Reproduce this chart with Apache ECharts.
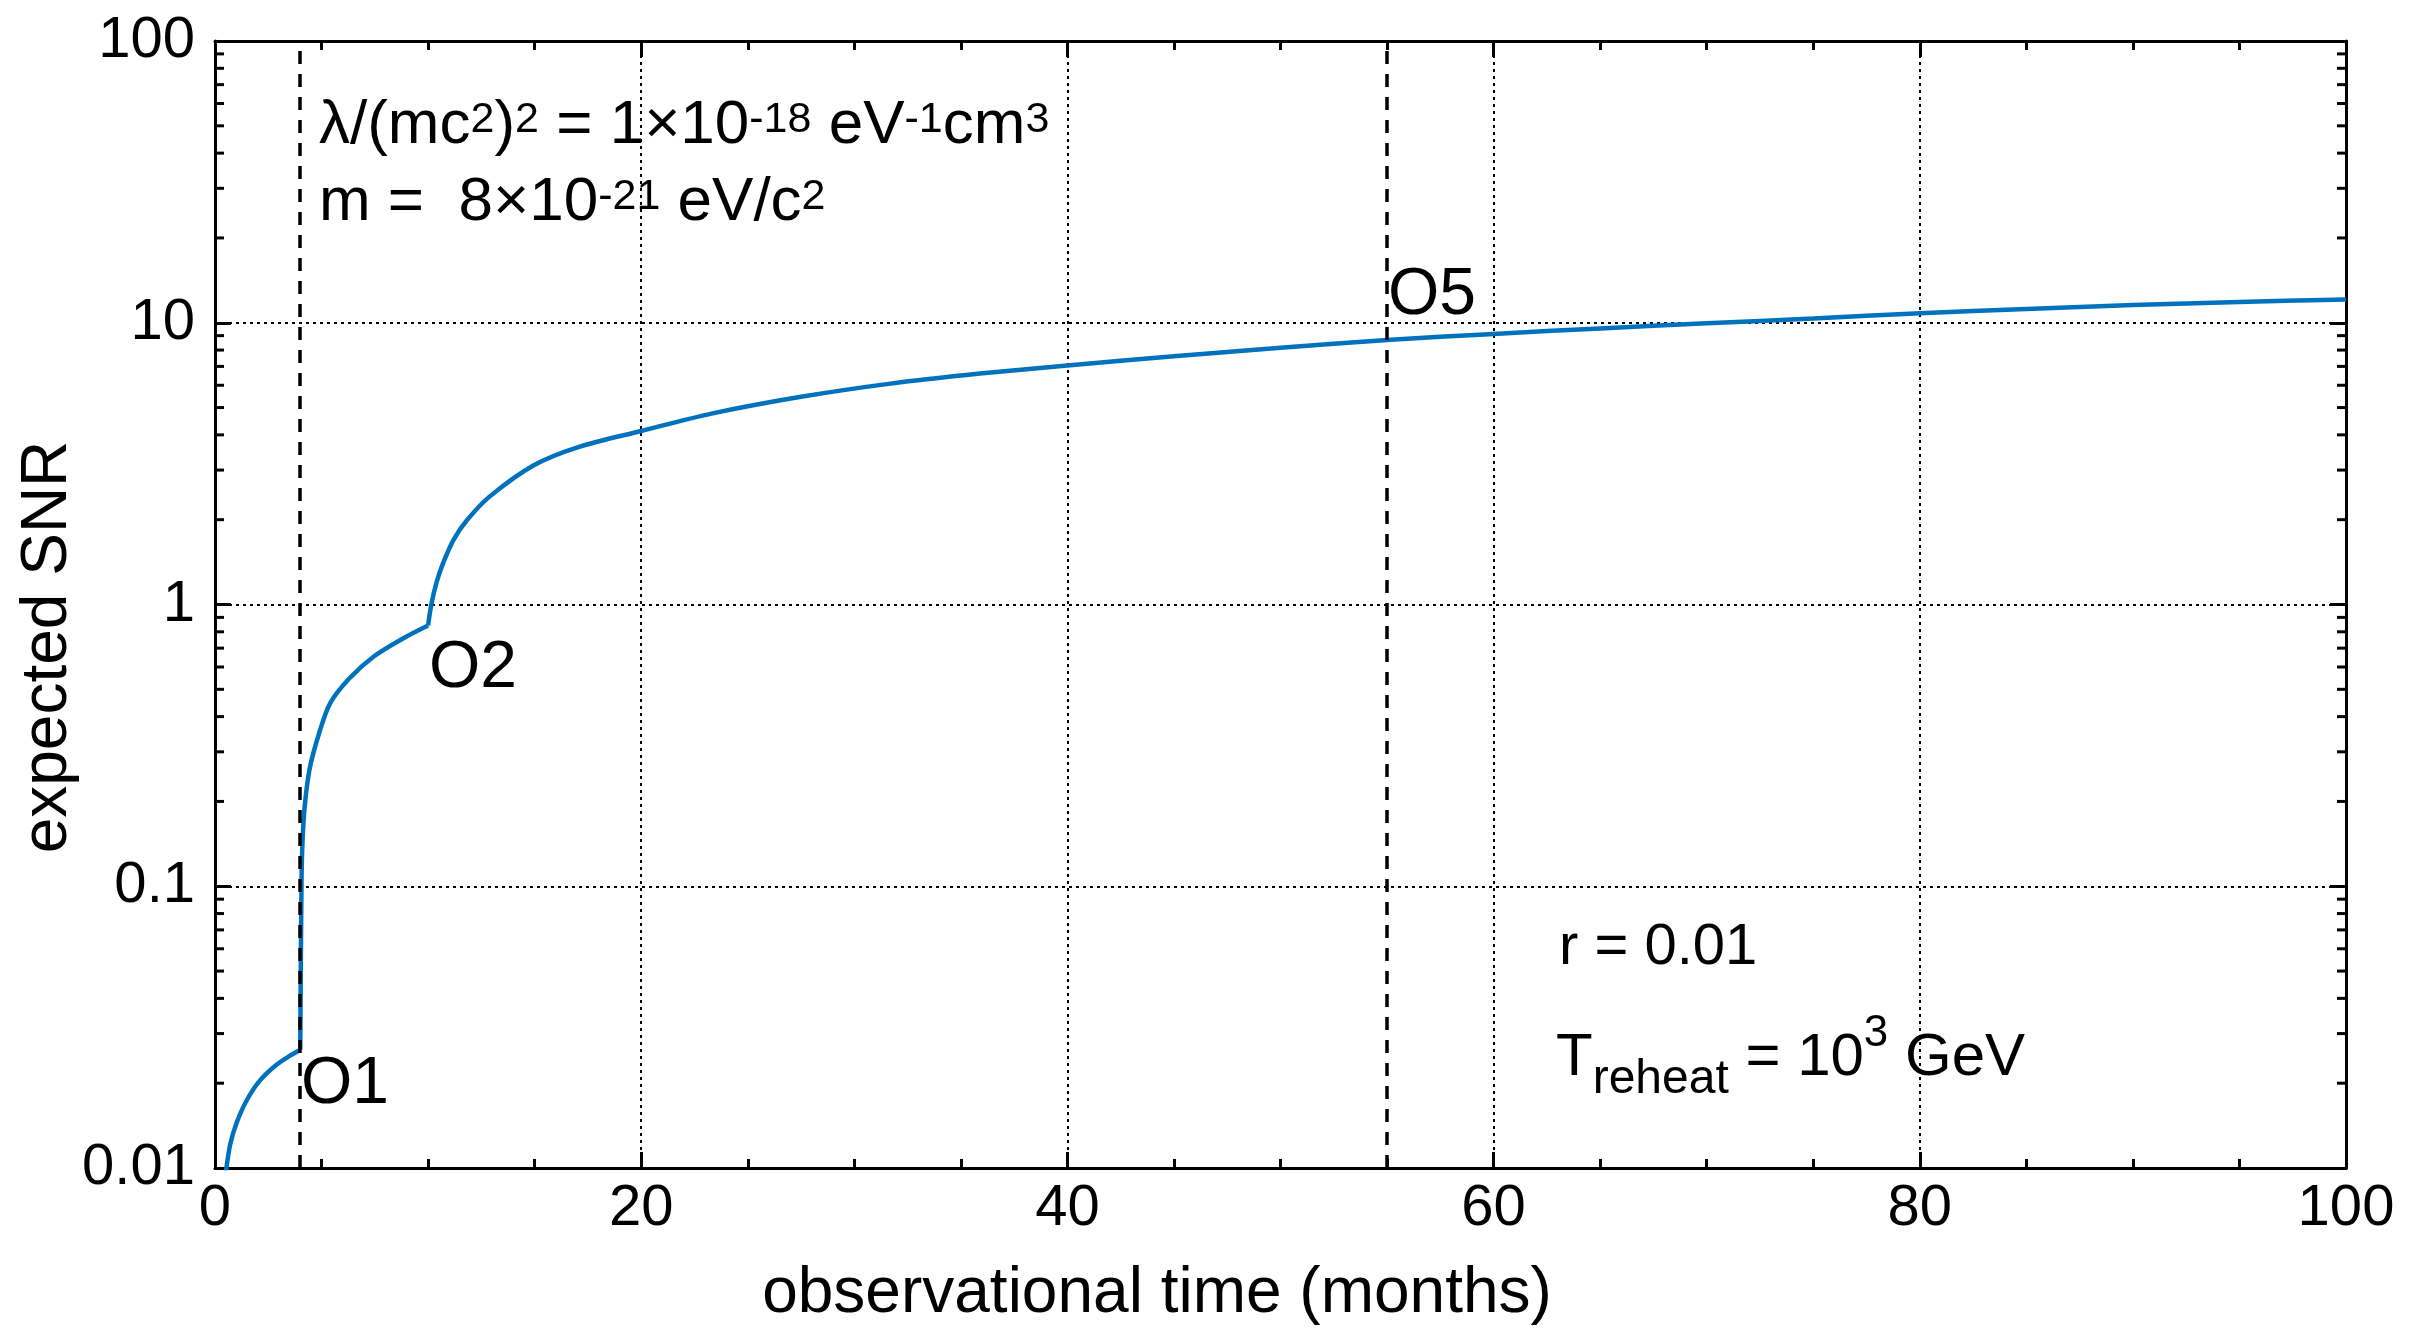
<!DOCTYPE html>
<html>
<head>
<meta charset="utf-8">
<script src="https://cdn.jsdelivr.net/npm/echarts@6/dist/echarts.min.js"></script>
<style>
html,body{margin:0;padding:0;background:#fff;}
#chart{width:2433px;height:1329px;}
</style>
</head>
<body>
<div id="chart"></div>
<script>
// ---- data (one array pair per observing-run stretch) ----
const monthsO1 = [0.45, 0.52, 0.71, 1.02, 1.49, 2.12, 2.9, 3.5, 4.0];
const snrO1 = [0.0088, 0.0098, 0.0121, 0.0145, 0.0174, 0.0205, 0.0233, 0.025, 0.0263];
const monthsO2 = [4.0, 4.06, 4.11, 4.22, 4.45, 4.9, 5.4, 6.3, 7.45, 8.8, 10.0];
const snrO2 = [0.0263, 0.103, 0.146, 0.196, 0.263, 0.352, 0.446, 0.546, 0.654, 0.756, 0.842];
const monthsO5 = [10.0, 10.15, 10.4, 10.7, 11.2, 11.82, 12.87, 14.96, 17.05, 20, 23.3, 27.5, 31.7, 35.9, 40, 45, 50, 55, 60, 65, 70, 75, 80, 85, 90, 95, 100];
const snrO5 = [0.842, 1.0, 1.2, 1.4, 1.7, 1.99, 2.41, 3.12, 3.62, 4.13, 4.76, 5.46, 6.08, 6.6, 7.05, 7.6, 8.15, 8.68, 9.13, 9.55, 9.95, 10.36, 10.8, 11.2, 11.55, 11.85, 12.1];
const runStartMonths = [4, 55];
const xTickValues = [0, 20, 40, 60, 80, 100];
const xTickLabels = ['0', '20', '40', '60', '80', '100'];
const yTickValues = [0.01, 0.1, 1, 10, 100];
const yTickLabels = ['0.01', '0.1', '1', '10', '100'];
const yDecades = [0.01, 0.1, 1, 10];
const yMinorMultipliers = [2, 3, 4, 5, 6, 7, 8, 9];
const xAxisTitle = 'observational time (months)';
const yAxisTitle = 'expected SNR';

// ---- chart ----
const F = "'Liberation Sans', Arial, Helvetica, sans-serif";
const CURVE = '#0072BD';
const yMinorTicks = [];
yDecades.forEach(d => yMinorMultipliers.forEach(k => yMinorTicks.push(d * k)));

const chart = echarts.init(document.getElementById('chart'), null, {renderer: 'canvas'});

const axisLineStyle = {color: '#000', width: 3};
const gridLineStyle = {color: '#000', width: 2, type: [3, 4]};

function xAxisBase(pos, withLabels) {
  return {
    type: 'value', min: 0, max: 100, interval: 20, position: pos,
    axisLine: {show: true, onZero: false, lineStyle: axisLineStyle},
    axisTick: {show: true, inside: true, length: 16, lineStyle: {color: '#000', width: 3}},
    minorTick: {show: true, splitNumber: 4, length: 9, lineStyle: {color: '#000', width: 3}},
    axisLabel: withLabels ? {
      show: true, margin: 12, fontSize: 58, color: '#000', fontFamily: F,
      showMinLabel: true, showMaxLabel: true,
      formatter: v => { const i = xTickValues.indexOf(Math.round(v)); return i >= 0 ? xTickLabels[i] : ''; }
    } : {show: false},
    splitLine: {show: withLabels, lineStyle: gridLineStyle},
    minorSplitLine: {show: false}
  };
}
function yAxisBase(pos, withLabels) {
  return {
    type: 'log', logBase: 10, min: 0.01, max: 100, position: pos,
    axisLine: {show: true, onZero: false, lineStyle: axisLineStyle},
    axisTick: {show: true, inside: true, length: 16, lineStyle: {color: '#000', width: 3}},
    minorTick: {show: false},
    axisLabel: withLabels ? {
      show: true, margin: 20, fontSize: 58, color: '#000', fontFamily: F,
      showMinLabel: true, showMaxLabel: true,
      formatter: v => { const i = Math.round(Math.log10(v)) + 2; return yTickLabels[i] !== undefined ? yTickLabels[i] : ''; }
    } : {show: false},
    splitLine: {show: withLabels, lineStyle: gridLineStyle}
  };
}

function curveSeries(xs, ys, extra) {
  return Object.assign({
    type: 'line', xAxisIndex: 0, yAxisIndex: 0,
    data: xs.map((m, i) => [m, ys[i]]),
    symbol: 'none', showSymbol: false,
    smooth: 0.3,
    lineStyle: {color: CURVE, width: 4.5},
    clip: true, z: 3
  }, extra || {});
}

const sup = (fs, pad) => ({fontSize: fs, lineHeight: fs, verticalAlign: 'top', padding: [pad, 0, 0, 0], fontFamily: F, fill: '#000'});
const mainTok = fs => ({fontSize: fs, lineHeight: 100, verticalAlign: 'middle', fontFamily: F, fill: '#000'});

const option = {
  animation: false,
  backgroundColor: '#fff',
  grid: {left: 215, right: 87, top: 41, bottom: 161, containLabel: false},
  xAxis: [xAxisBase('bottom', true), xAxisBase('top', false)],
  yAxis: [yAxisBase('left', true), yAxisBase('right', false)],
  series: [
    curveSeries(monthsO1, snrO1, {
      markLine: {
        silent: true, symbol: ['none', 'none'],
        label: {show: false},
        lineStyle: {color: '#000', width: 3.5, type: [13, 10]},
        data: runStartMonths.map(v => ({xAxis: v}))
      }
    }),
    curveSeries(monthsO2, snrO2),
    curveSeries(monthsO5, snrO5),
    {
      type: 'custom', silent: true, z: 4, clip: false,
      xAxisIndex: 0, yAxisIndex: 0,
      data: yMinorTicks.map(v => [0, v]),
      renderItem: (params, api) => {
        const v = api.value(1);
        const l = api.coord([0, v]);
        const r = api.coord([100, v]);
        return {type: 'group', children: [
          {type: 'line', shape: {x1: l[0], y1: l[1], x2: l[0] + 9, y2: l[1]}, style: {stroke: '#000', lineWidth: 3}},
          {type: 'line', shape: {x1: r[0] - 9, y1: r[1], x2: r[0], y2: r[1]}, style: {stroke: '#000', lineWidth: 3}}
        ]};
      }
    }
  ],
  graphic: [
    {type: 'text', x: 1157, y: 1294, z: 100, style: {text: xAxisTitle, fontSize: 64, fontFamily: F, fill: '#000', align: 'center', verticalAlign: 'middle'}},
    {type: 'text', x: 48, y: 647, rotation: Math.PI / 2, z: 100, style: {text: yAxisTitle, fontSize: 64, fontFamily: F, fill: '#000', align: 'center', verticalAlign: 'middle'}},
    {type: 'text', x: 319, y: 76, z: 100, style: {
      text: '{m|λ/(mc}{s|2}{m|)}{s|2}{m| = 1×10}{s|-18}{m| eV}{s|-1}{m|cm}{s|3}',
      align: 'left', verticalAlign: 'top', fill: '#000', fontFamily: F, fontSize: 62,
      rich: {m: mainTok(62), s: sup(43, 23)}}},
    {type: 'text', x: 319, y: 153, z: 100, style: {
      text: '{m|m =  8×10}{s|-21}{m| eV/c}{s|2}',
      align: 'left', verticalAlign: 'top', fill: '#000', fontFamily: F, fontSize: 62,
      rich: {m: mainTok(62), s: sup(43, 23)}}},
    {type: 'text', x: 301, y: 1085, z: 100, style: {text: 'O1', fontSize: 66, fontFamily: F, fill: '#000', align: 'left', verticalAlign: 'middle'}},
    {type: 'text', x: 429, y: 669, z: 100, style: {text: 'O2', fontSize: 66, fontFamily: F, fill: '#000', align: 'left', verticalAlign: 'middle'}},
    {type: 'text', x: 1388, y: 296, z: 100, style: {text: 'O5', fontSize: 66, fontFamily: F, fill: '#000', align: 'left', verticalAlign: 'middle'}},
    {type: 'text', x: 1559, y: 948, z: 100, style: {text: 'r = 0.01', fontSize: 58, fontFamily: F, fill: '#000', align: 'left', verticalAlign: 'middle'}},
    {type: 'text', x: 1556, y: 1008, z: 100, style: {
      text: '{m|T}{b|reheat}{m| = 10}{p|3}{m| GeV}',
      align: 'left', verticalAlign: 'top', fill: '#000', fontFamily: F, fontSize: 60,
      rich: {
        m: mainTok(60),
        b: {fontSize: 48, lineHeight: 48, verticalAlign: 'top', padding: [48, 0, 0, 0], fontFamily: F, fill: '#000'},
        p: sup(44, 4)
      }}}
  ]
};
chart.setOption(option);
</script>
</body>
</html>
